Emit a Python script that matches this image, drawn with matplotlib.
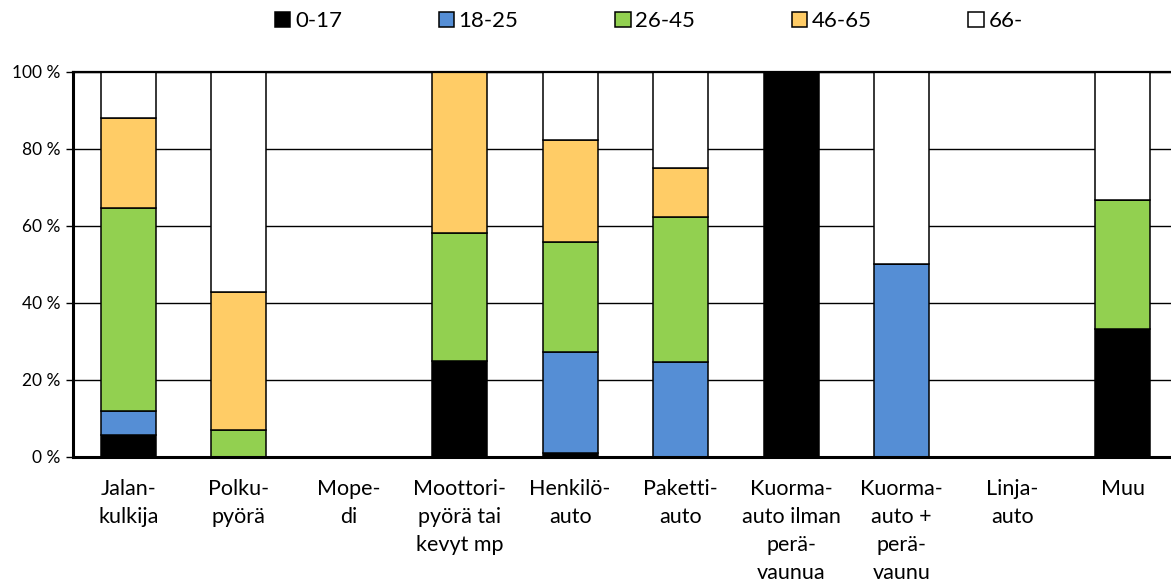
import matplotlib.pyplot as plt
import numpy as np

plt.rcParams['font.family'] = ['Lato', 'DejaVu Sans']

categories = ['Jalan-\nkulkija', 'Polku-\npyörä', 'Mope-\ndi', 'Moottori-\npyörä tai\nkevyt mp',
              'Henkilö-\nauto', 'Paketti-\nauto', 'Kuorma-\nauto ilman\nperä-\nvaunua',
              'Kuorma-\nauto +\nperä-\nvaunu', 'Linja-\nauto', 'Muu']
age_groups = ['0-17', '18-25', '26-45', '46-65', '66-']

# shares in percent
age_0_17 = [5.7, 0, 0, 25.0, 1.0, 0, 100.0, 0, 0, 33.3]
age_18_25 = [6.2, 0, 0, 0, 26.3, 24.7, 0, 50.0, 0, 0]
age_26_45 = [52.8, 7.0, 0, 33.3, 28.5, 37.6, 0, 0, 0, 33.4]
age_46_65 = [23.3, 35.9, 0, 41.7, 26.5, 12.7, 0, 0, 0, 0]
age_66 = [12.0, 57.1, 0, 0, 17.7, 25.0, 0, 50.0, 0, 33.3]

series = [age_0_17, age_18_25, age_26_45, age_46_65, age_66]
colors = ['#000000', '#558ED5', '#92D050', '#FFCC66', '#FFFFFF']

fig = plt.figure(figsize=(11.71, 5.88), dpi=100)
ax = fig.add_axes([0.0623, 0.2228, 0.9436, 0.6548])

x = np.arange(len(categories))
bottom = np.zeros(len(categories))
for name, vals, col in zip(age_groups, series, colors):
    vals = np.array(vals)
    ax.bar(x, vals, 0.5, bottom=bottom, color=col, edgecolor='black',
           linewidth=1.1, label=name, zorder=3)
    bottom += vals

ax.set_xlim(-0.5, len(categories) - 0.5)
ax.set_ylim(0, 100)
ax.set_yticks([0, 20, 40, 60, 80, 100])
ax.set_yticklabels(['0 %', '20 %', '40 %', '60 %', '80 %', '100 %'], fontsize=12.5)
ax.set_xticks(x)
ax.set_xticklabels(categories, fontsize=15.5, linespacing=1.5, va='top')
ax.tick_params(axis='x', length=0, pad=16)
ax.tick_params(axis='y', length=5, width=1, pad=4)
ax.grid(axis='y', color='black', linewidth=1, zorder=0)

ax.spines['right'].set_visible(False)
ax.spines['left'].set_linewidth(2.2)
ax.spines['bottom'].set_linewidth(2.2)
ax.spines['top'].set_linewidth(1.6)
for s in ax.spines.values():
    s.set_zorder(4)

fig.legend(loc='upper center', bbox_to_anchor=(0.554, 1.015), ncol=5, frameon=False,
           fontsize=16, handlelength=0.7, handleheight=0.7, handletextpad=0.2,
           columnspacing=4.35)

fig.savefig('out.png', dpi=100)
